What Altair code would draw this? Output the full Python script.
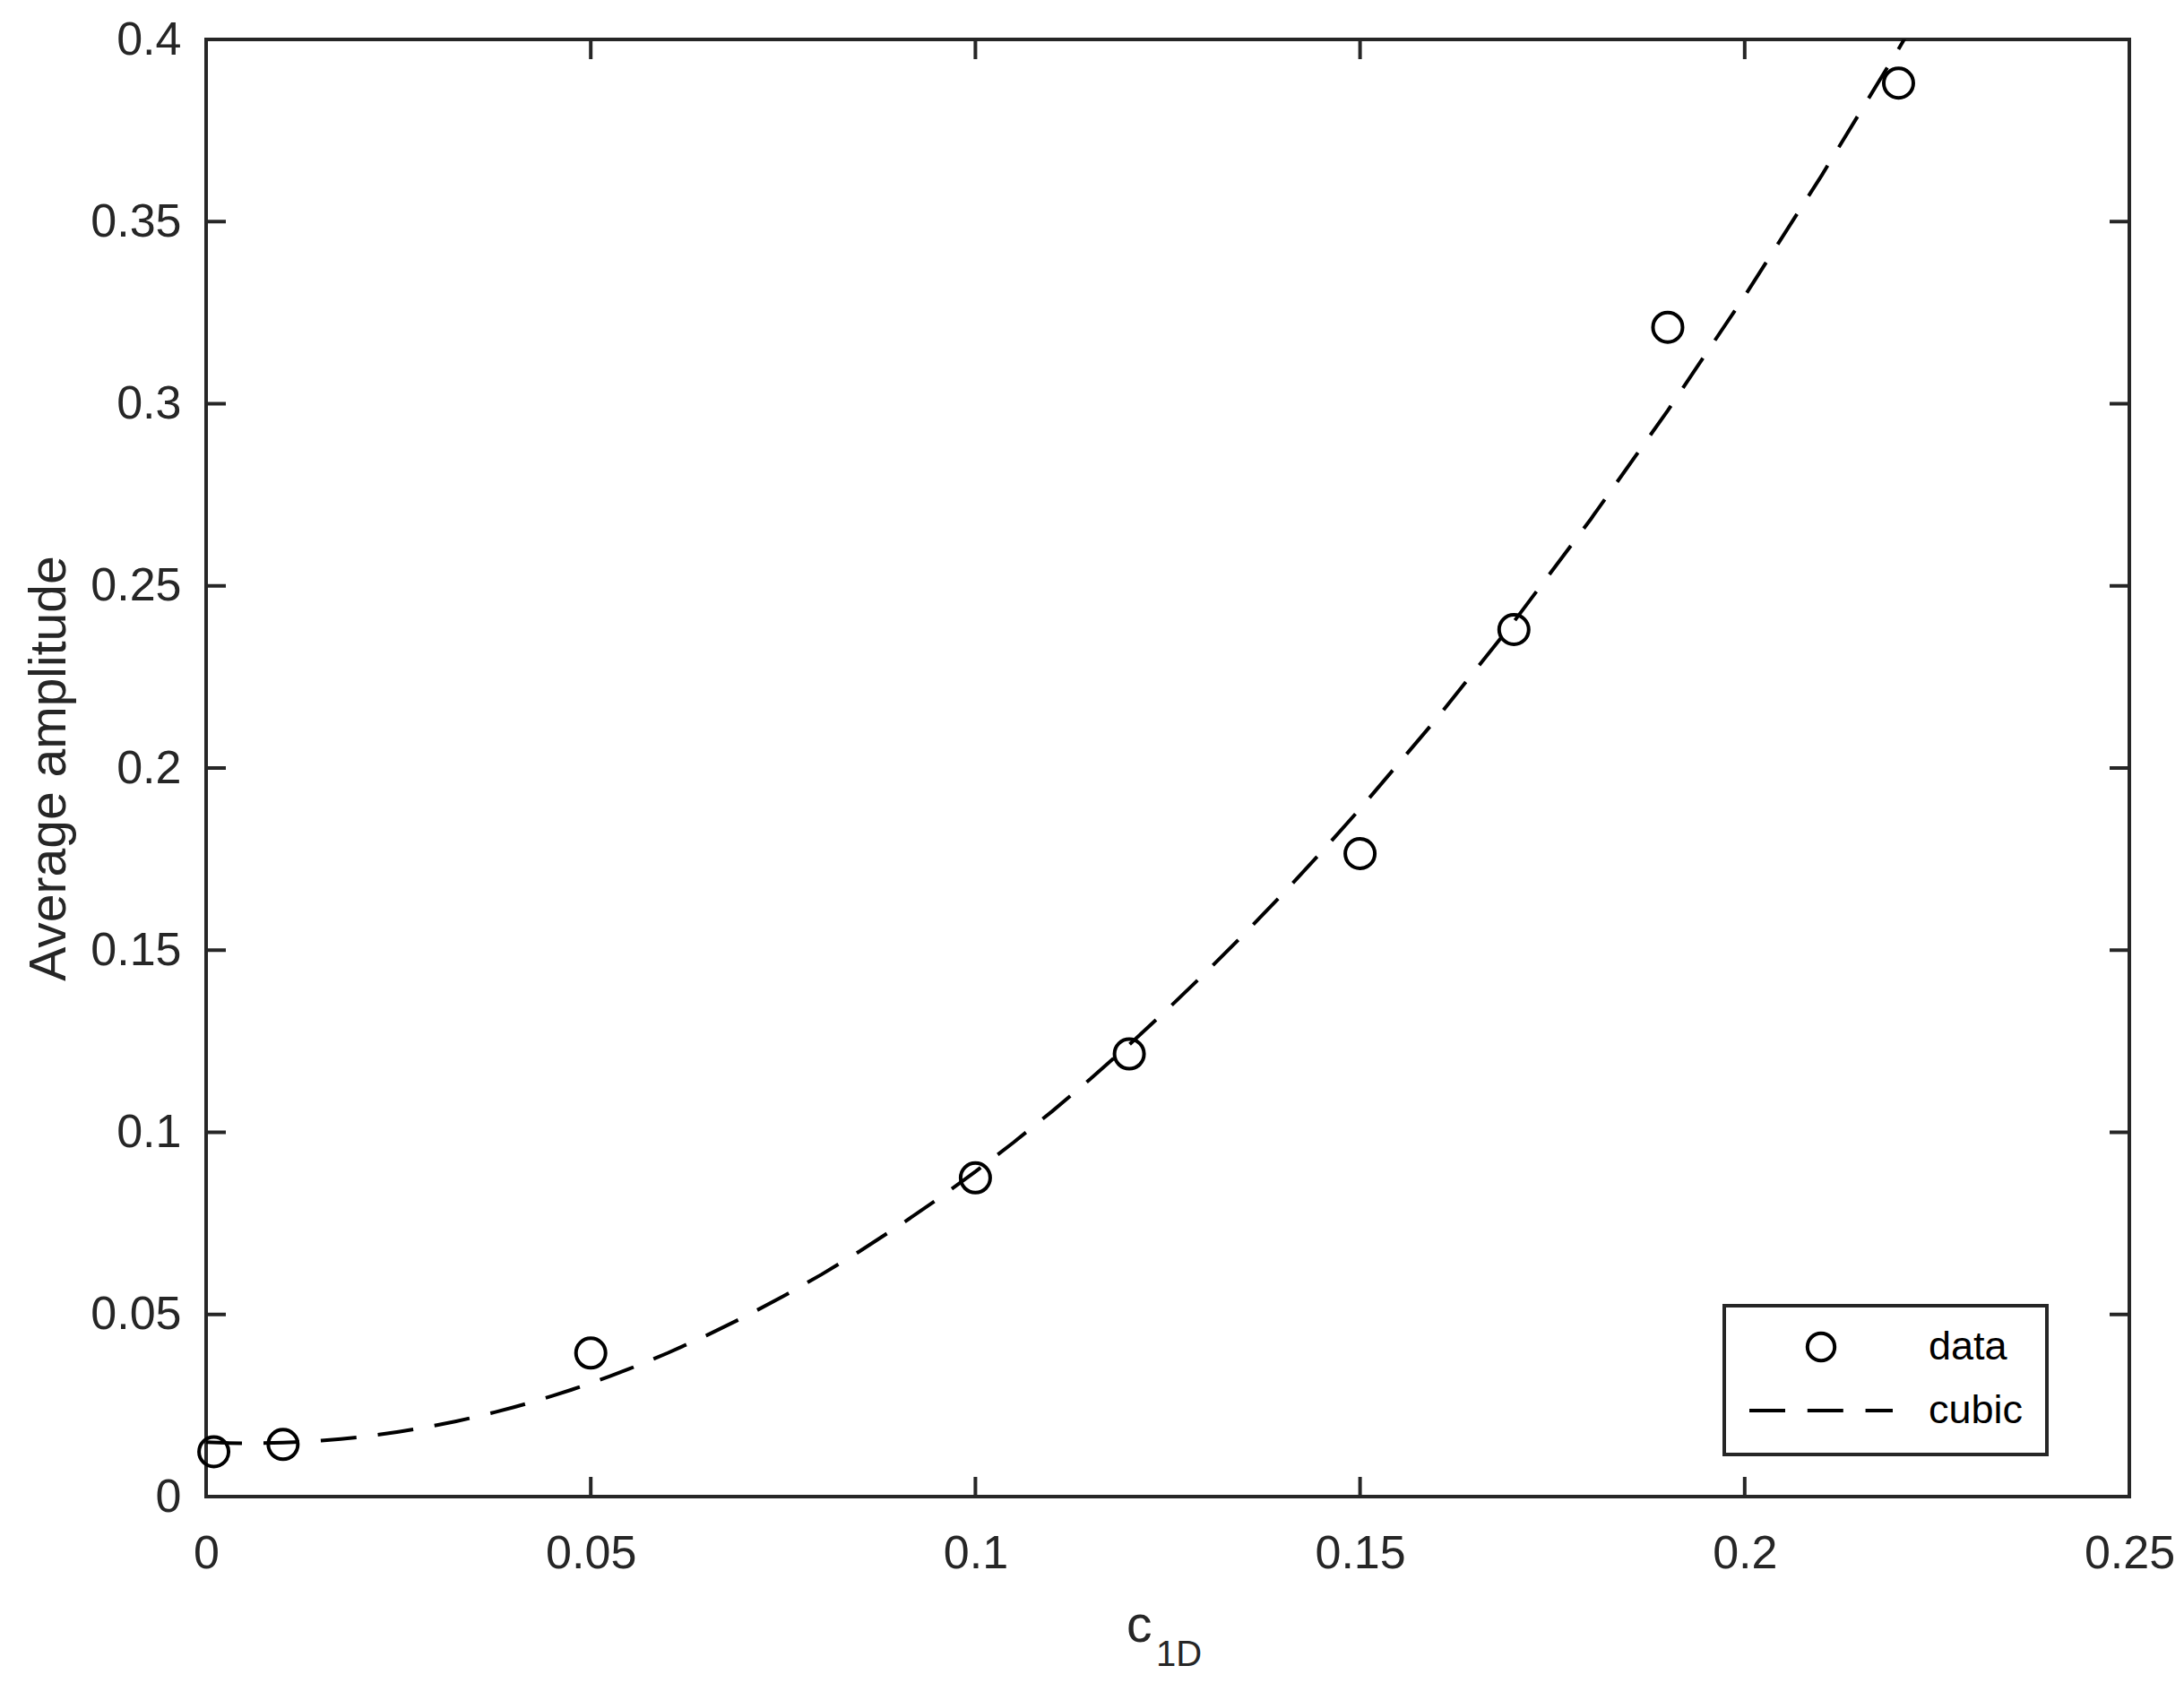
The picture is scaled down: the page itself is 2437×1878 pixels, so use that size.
import altair as alt
import pandas as pd

# ---- data ----
c1d = [0.001, 0.01, 0.05, 0.1, 0.12, 0.15, 0.17, 0.19, 0.22]
amp = [0.0123, 0.0143, 0.0394, 0.0875, 0.1215, 0.1765, 0.238, 0.321, 0.388]
series_names = ["data", "cubic"]
x_ticks = [0, 0.05, 0.1, 0.15, 0.2, 0.25]
y_ticks = [0, 0.05, 0.1, 0.15, 0.2, 0.25, 0.3, 0.35, 0.4]
x_title_main = "c"
x_title_sub = "1D"
y_title = "Average amplitude"

# ---- layout / style ----
W, H = 2146, 1626
TL = 22
AX = "#262626"
FONT = "Liberation Sans"

df = pd.DataFrame({"x": c1d, "y": amp, "series": series_names[0]})
xt = pd.DataFrame({"x": x_ticks})
yt = pd.DataFrame({"y": y_ticks})
one = pd.DataFrame({"a": [0]})

xs = alt.Scale(domain=[0, 0.25], nice=False, zero=False)
ys = alt.Scale(domain=[0, 0.4], nice=False, zero=False)

CIRCLE = "M0.19,0A0.19,0.19,0,1,1,-0.19,0A0.19,0.19,0,1,1,0.19,0Z"
DASH = "M-1,0H-0.5M-0.19,0H0.31M0.62,0H1"

x_axis = alt.Axis(values=x_ticks, format="~g", ticks=False, tickSize=0, domain=False,
                  grid=False, labelFontSize=52, labelColor=AX, labelFont=FONT,
                  labelPadding=38, labelFlush=False, labelOverlap=False, title=None)
y_axis = alt.Axis(values=y_ticks, format="~g", ticks=False, tickSize=0, domain=False,
                  grid=False, labelFontSize=52, labelColor=AX, labelFont=FONT,
                  labelPadding=28, labelFlush=False, labelOverlap=False,
                  title=y_title, titleFont=FONT, titleFontSize=57, titleColor=AX,
                  titleFontWeight="normal", titleAngle=270, titleX=-158, titleY=813,
                  titleAlign="center", titleBaseline="alphabetic")

points = alt.Chart(df).mark_point(filled=False, color="black", strokeWidth=4,
                                  size=30170, opacity=1).encode(
    x=alt.X("x:Q", scale=xs, axis=x_axis),
    y=alt.Y("y:Q", scale=ys, axis=y_axis),
    shape=alt.Shape("series:N",
                    scale=alt.Scale(domain=series_names, range=[CIRCLE, DASH]),
                    legend=alt.Legend(title=None, orient="none", legendX=1694, legendY=1413,
                                      strokeColor=AX, fillColor="white", padding=26,
                                      rowPadding=26, clipHeight=40,
                                      symbolSize=25600, symbolStrokeWidth=4,
                                      symbolStrokeColor="black", symbolFillColor="transparent",
                                      labelFontSize=45, labelFont=FONT, labelColor="black",
                                      labelOffset=38)),
)

line = alt.Chart(df).transform_regression(
    "x", "y", method="poly", order=3, extent=[0, 0.25]
).mark_line(color="black", strokeWidth=4, strokeDash=[40, 24], clip=True).encode(
    x=alt.X("x:Q", scale=xs, title=None),
    y=alt.Y("y:Q", scale=ys),
)

rule_style = dict(color=AX, strokeWidth=4)
bt = alt.Chart(xt).mark_rule(**rule_style).encode(
    x=alt.X("x:Q", scale=xs, title=None), y=alt.value(H), y2=alt.value(H - TL))
tt = alt.Chart(xt).mark_rule(**rule_style).encode(
    x=alt.X("x:Q", scale=xs, title=None), y=alt.value(0), y2=alt.value(TL))
lt = alt.Chart(yt).mark_rule(**rule_style).encode(
    y=alt.Y("y:Q", scale=ys), x=alt.value(0), x2=alt.value(TL))
rt = alt.Chart(yt).mark_rule(**rule_style).encode(
    y=alt.Y("y:Q", scale=ys), x=alt.value(W), x2=alt.value(W - TL))

c_txt = alt.Chart(one).mark_text(text=x_title_main, font=FONT, fontSize=57, color=AX,
                                 align="left", baseline="alphabetic").encode(
    x=alt.value(1027), y=alt.value(1788))
sub_txt = alt.Chart(one).mark_text(text=x_title_sub, font=FONT, fontSize=40, color=AX,
                                   align="left", baseline="alphabetic").encode(
    x=alt.value(1060), y=alt.value(1815))

chart = alt.layer(points, line, bt, tt, lt, rt, c_txt, sub_txt).properties(
    width=W, height=H,
    padding={"left": 222, "top": 36, "right": 52, "bottom": 196},
    autosize=alt.AutoSizeParams(type="none"),
    background="white",
).configure_view(stroke=AX, strokeWidth=4).configure_legend(strokeWidth=4)

chart.save("out.html", embed_options={"renderer": "svg", "actions": False})
